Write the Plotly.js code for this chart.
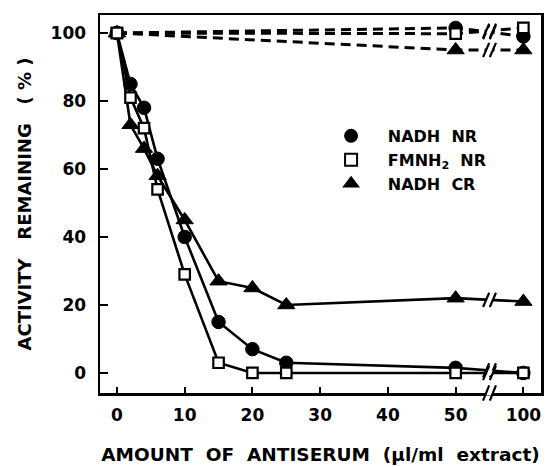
<!DOCTYPE html>
<html><head><meta charset="utf-8">
<script src="https://cdn.plot.ly/plotly-3.0.1.min.js"></script>
<style>html,body{margin:0;padding:0;background:#fff}#chart{width:552px;height:467px}</style>
</head><body><div id="chart"></div>
<script>
// Amount of antiserum (µl/ml extract)
const xValues = [0, 2, 4, 6, 10, 15, 20, 25, 50, 100];
const nadhNR  = [100, 85, 78, 63, 40, 15, 7, 3, 1.5, 0];
const fmnhNR  = [100, 81, 72, 54, 29, 3, 0, 0, 0, 0];
const nadhCR  = [100, 73, 66, 58, 45, 27, 25, 20, 22, 21];

// Controls (dashed)
const ctrlX       = [0, 50, 100];
const ctrlNadhNR  = [100, 101.5, 99];
const ctrlFmnhNR  = [100, 99.8, 101.5];
const ctrlNadhCR  = [100, 95, 95];

const xTickVals  = [0, 10, 20, 30, 40, 50, 100];
const xTickText  = ['0', '10', '20', '30', '40', '50', '100'];
const yTickVals  = [0, 20, 40, 60, 80, 100];

const NB = '\u00A0';
const LEAD = NB + NB + NB;
const seriesNames = [LEAD + 'NADH' + NB + NB + 'NR', LEAD + 'FMNH<sub>2</sub>' + NB + NB + 'NR', LEAD + 'NADH' + NB + NB + 'CR'];
const xTitle = ['AMOUNT', 'OF', 'ANTISERUM', '(µl/ml', 'extract)'].join(NB + NB);
const yTitle = ['ACTIVITY', 'REMAINING', '(' + NB + '%' + NB + ')'].join(NB + NB + NB);

// broken axis: values above 50 are drawn compressed after the break
const BREAK_LO = 50, BREAK_HI = 100, BREAK_POS = 55, HI_POS = 60;
function pos(x) { return x <= BREAK_LO ? x : HI_POS + (x - BREAK_HI) * 0.1; }

const markers = [
  {symbol: 'circle', size: 13.5, color: '#000', line: {color: '#000', width: 1}},
  {symbol: 'square', size: 10.5, color: '#fff', line: {color: '#000', width: 2.2}},
  {symbol: 'triangle-up', size: 15, color: '#000', line: {color: '#000', width: 1}}
];
const solid = [nadhNR, fmnhNR, nadhCR];
const ctrl = [ctrlNadhNR, ctrlFmnhNR, ctrlNadhCR];

const traces = [];
solid.forEach((ys, i) => {
  traces.push({x: xValues.map(pos), y: ys, mode: 'lines', line: {color: '#000', width: 2.6},
    showlegend: false, hoverinfo: 'skip'});
});
ctrl.forEach((ys, i) => {
  traces.push({x: ctrlX.map(pos), y: ys, mode: 'lines', line: {color: '#000', width: 3, dash: '10px,6px'},
    showlegend: false, hoverinfo: 'skip'});
});
[0, 2, 1].forEach(i => {
  traces.push({x: xValues.map(pos), y: solid[i], mode: 'markers', marker: markers[i],
    showlegend: false, cliponaxis: false});
  traces.push({x: ctrlX.map(pos), y: ctrl[i], mode: 'markers', marker: markers[i],
    showlegend: false, cliponaxis: false});
});
// legend entries (marker only)
[0, 1, 2].forEach(i => {
  traces.push({x: [null], y: [null], mode: 'markers', marker: markers[i], name: seriesNames[i],
    legendgroup: 'g' + i});
});

// break marks
const shapes = [];
function breakMark(y, yref) {
  const isPaper = yref === 'paper';
  const dy = isPaper ? 0.02 : 2.1;
  shapes.push({type: 'line', xref: 'x', yref: yref, x0: BREAK_POS - 0.5, x1: BREAK_POS + 0.5, y0: y, y1: y,
    line: {color: '#fff', width: 5}, layer: 'above'});
  [-0.5, 0.5].forEach(o => {
    shapes.push({type: 'line', xref: 'x', yref: yref, x0: BREAK_POS + o - 0.45, x1: BREAK_POS + o + 0.45,
      y0: y - dy, y1: y + dy, line: {color: '#000', width: 2.2}, layer: 'above'});
  });
}
function atBreak(ys, xs) {
  const i50 = xs.indexOf(BREAK_LO), i100 = xs.indexOf(BREAK_HI);
  const t = (BREAK_POS - pos(BREAK_LO)) / (pos(BREAK_HI) - pos(BREAK_LO));
  return ys[i50] + (ys[i100] - ys[i50]) * t;
}
solid.forEach(ys => breakMark(atBreak(ys, xValues), 'y'));
ctrl.forEach(ys => breakMark(atBreak(ys, ctrlX), 'y'));
breakMark(0, 'paper');

const FONT = 'DejaVu Sans, Liberation Sans, sans-serif';
const tickFont = {family: FONT, size: 17, color: '#000', weight: 'bold'};
const layout = {
  width: 552, height: 467,
  margin: {l: 100, r: 11, t: 15, b: 74},
  paper_bgcolor: '#fff', plot_bgcolor: '#fff',
  showlegend: true,
  legend: {x: 0.524, y: 0.725, xanchor: 'left', yanchor: 'top', bgcolor: 'rgba(0,0,0,0)',
    font: {family: FONT, size: 16, color: '#000', weight: 'bold'},
    itemsizing: 'constant', tracegroupgap: 0},
  xaxis: {range: [-2.5, 62.6], tickvals: xTickVals.map(pos), ticktext: xTickText,
    ticks: 'inside', ticklen: 6, tickwidth: 2, tickcolor: '#000',
    showline: true, mirror: true, linecolor: '#000', linewidth: 2.5,
    showgrid: false, zeroline: false, tickfont: tickFont, ticklabelstandoff: 5,
    title: {text: xTitle, standoff: 24,
      font: {family: FONT, size: 18.5, color: '#000', weight: 'bold'}}},
  yaxis: {range: [-5.9, 105.3], tickvals: yTickVals,
    ticks: 'inside', ticklen: 8, tickwidth: 2, tickcolor: '#000',
    showline: true, mirror: true, linecolor: '#000', linewidth: 2.5,
    showgrid: false, zeroline: false, tickfont: tickFont, ticklabelstandoff: 8,
    title: {text: yTitle, standoff: 15,
      font: {family: FONT, size: 18, color: '#000', weight: 'bold'}}},
  shapes: shapes
};
Plotly.newPlot('chart', traces, layout, {displayModeBar: false, staticPlot: true});
</script></body></html>
